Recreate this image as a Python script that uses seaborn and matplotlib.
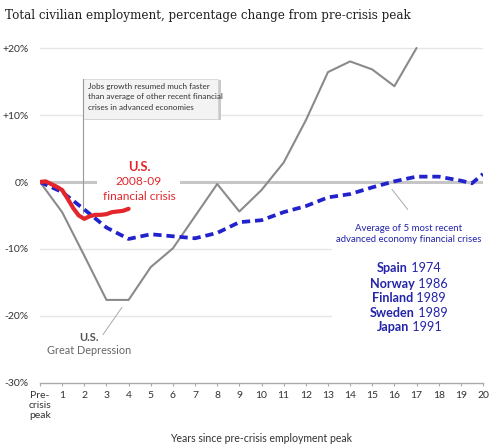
import matplotlib
matplotlib.use("Agg")
import matplotlib.pyplot as plt
from matplotlib.patches import Rectangle
import seaborn as sns
import pandas as pd

# ---------------- data ----------------
gd_years = list(range(0, 18))
gd_values = [0, -4.5, -11.0, -17.6, -17.6, -12.7, -9.9, -5.1, -0.3, -4.4,
             -1.2, 2.9, 9.2, 16.4, 18.0, 16.8, 14.3, 20.0]

us_years = [0, 0.25, 0.5, 0.75, 1.0, 1.25, 1.5, 1.75, 2.0, 2.25, 2.5, 2.75,
            3.0, 3.25, 3.5, 3.75, 4.0]
us_values = [0, 0.1, -0.3, -0.7, -1.2, -2.5, -3.9, -5.0, -5.5, -5.1, -4.9,
             -4.9, -4.8, -4.5, -4.4, -4.3, -4.0]

avg_years = [0, 1, 2, 3, 4, 5, 6, 7, 8, 9, 10, 11, 12, 13, 14, 15, 16, 17,
             18, 19, 19.5, 20]
avg_values = [0, -1.5, -4.1, -6.8, -8.5, -7.8, -8.1, -8.4, -7.6, -6.0, -5.7,
              -4.5, -3.6, -2.3, -1.8, -0.8, 0.1, 0.8, 0.8, 0.2, -0.2, 1.2]

x_ticks = list(range(0, 21))
x_tick_labels = ["Pre-\ncrisis\npeak"] + [str(i) for i in range(1, 21)]
y_ticks = [-30, -20, -10, 0, 10, 20]
y_tick_labels = ["-30%", "-20%", "-10%", "0%", "+10%", "+20%"]

country_names = ["Spain", "Norway", "Finland", "Sweden", "Japan"]
country_years = ["1974", "1986", "1989", "1989", "1991"]

title_text = "Total civilian employment, percentage change from pre-crisis peak"
xlabel_text = "Years since pre-crisis employment peak"
box_text = ("Jobs growth resumed much faster\nthan average of other recent financial\n"
            "crises in advanced economies")

# ---------------- style ----------------
sns.set_style("white")
SANS = ["Lato", "DejaVu Sans"]
plt.rcParams["font.family"] = SANS

GRAY = "#8a8a8a"
RED = "#e3262b"
BLUE = "#2222cc"
TXTBLUE = "#2424aa"

fig = plt.figure(figsize=(5.0, 4.48), dpi=100)
ax = fig.add_axes([0.08, 0.1451, 0.886, 0.7627])

df_gd = pd.DataFrame({"year": gd_years, "value": gd_values})
df_us = pd.DataFrame({"year": us_years, "value": us_values})
df_avg = pd.DataFrame({"year": avg_years, "value": avg_values})

ax.set_xlim(0, 20)
ax.set_ylim(-30, 21)

# gridlines
for yv in y_ticks:
    if yv in (0, -30):
        continue
    ax.axhline(yv, color="#e6e6e6", lw=1.0, zorder=0.5)
ax.axhline(0, color="#c6c6c6", lw=2.2, zorder=0.6)

# white masks behind labels
ax.add_patch(Rectangle((2.57, -1.3), 3.75, 2.6, facecolor="white",
                       edgecolor="none", zorder=0.8))
ax.add_patch(Rectangle((13.2, -23.5), 7.5, 17.6, facecolor="white",
                       edgecolor="none", zorder=0.8, clip_on=False))

# annotation box with shadow
ax.add_patch(Rectangle((2.06, 9.2), 6.1, 5.95, facecolor="#c8c8c8",
                       edgecolor="none", zorder=1.0))
ax.add_patch(Rectangle((1.94, 9.37), 6.1, 5.98, facecolor="#f3f3f3",
                       edgecolor="#d0d0d0", lw=0.5, zorder=1.1))
ax.text(2.15, 14.85, box_text, fontsize=5.9, color="#333333", va="top",
        ha="left", linespacing=1.6, zorder=1.2)
ax.plot([1.94, 1.94], [15.35, -4.6], color="#999999", lw=0.8, zorder=1.3)

# lines
sns.lineplot(data=df_gd, x="year", y="value", ax=ax, color=GRAY, lw=1.5,
             zorder=3)
sns.lineplot(data=df_avg, x="year", y="value", ax=ax, color=BLUE, lw=2.7,
             zorder=4, dashes=False, linestyle=(0, (2.2, 1.3)))
sns.lineplot(data=df_us, x="year", y="value", ax=ax, color=RED, lw=3.0,
             zorder=5)
for line in ax.lines:
    line.set_solid_capstyle("round")

# axes styling
sns.despine(ax=ax, left=True)
ax.spines["bottom"].set_color("#aaaaaa")
ax.spines["bottom"].set_linewidth(1.0)
ax.set_xticks(x_ticks)
ax.set_xticklabels(x_tick_labels, fontsize=7.5, color="#333333",
                   linespacing=1.15, va="top")
ax.set_yticks(y_ticks)
ax.set_yticklabels(y_tick_labels, fontsize=7.5, color="#333333")
ax.tick_params(axis="x", length=2.5, width=0.8, color="#aaaaaa", pad=3,
               direction="out", bottom=True)
ax.tick_params(axis="y", length=0, pad=8)
ax.set_xlabel("")
ax.set_ylabel("")

# labels
ax.text(4.47, 2.2, "U.S.", color=RED, fontsize=9.3, fontweight="bold",
        ha="center", va="center", zorder=6)
ax.text(4.47, 0.05, "2008-09", color=RED, fontsize=8.6, ha="center",
        va="center", zorder=6)
ax.text(4.47, -2.15, "financial crisis", color=RED, fontsize=8.6,
        ha="center", va="center", zorder=6)

ax.text(2.2, -23.2, "U.S.", color="#555555", fontsize=8, fontweight="bold",
        ha="center", va="center", zorder=6)
ax.text(2.2, -25.2, "Great Depression", color="#666666", fontsize=7.8,
        ha="center", va="center", zorder=6)
ax.plot([2.84, 3.70], [-22.8, -18.7], color="#aaaaaa", lw=0.7, zorder=2)

ax.text(16.66, -7.75, "Average of 5 most recent\nadvanced economy financial crises",
        color=TXTBLUE, fontsize=6.9, ha="center", va="center",
        linespacing=1.25, zorder=6)
ax.plot([15.89, 16.6], [-1.1, -4.1], color="#aaaaaa", lw=0.7, zorder=2)

# countries: bold name + regular year, centred as a pair
fig.canvas.draw()
renderer = fig.canvas.get_renderer()
country_y = [-12.9, -15.15, -17.35, -19.5, -21.7]
cx_px = ax.transData.transform((16.66, 0))[0]
inv = ax.transData.inverted()
for name, yr, yv in zip(country_names, country_years, country_y):
    t1 = ax.text(0, yv, name, color=TXTBLUE, fontsize=9.1, fontweight="bold",
                 ha="left", va="center", zorder=6)
    t2 = ax.text(0, yv, " " + yr, color=TXTBLUE, fontsize=9.1, ha="left",
                 va="center", zorder=6)
    w1 = t1.get_window_extent(renderer).width
    w2 = t2.get_window_extent(renderer).width
    left_px = cx_px - (w1 + w2) / 2
    x1 = inv.transform((left_px, 0))[0]
    x2 = inv.transform((left_px + w1, 0))[0]
    t1.set_x(x1)
    t2.set_x(x2)

fig.text(0.01, 1 - 15 / 448, title_text, family=["DejaVu Serif"],
         fontsize=8.55, color="#222222", va="center", ha="left")
fig.text(261.5 / 500, 1 - 438 / 448, xlabel_text, fontsize=7.6,
         color="#333333", va="center", ha="center")

fig.savefig("out.png", dpi=100)
